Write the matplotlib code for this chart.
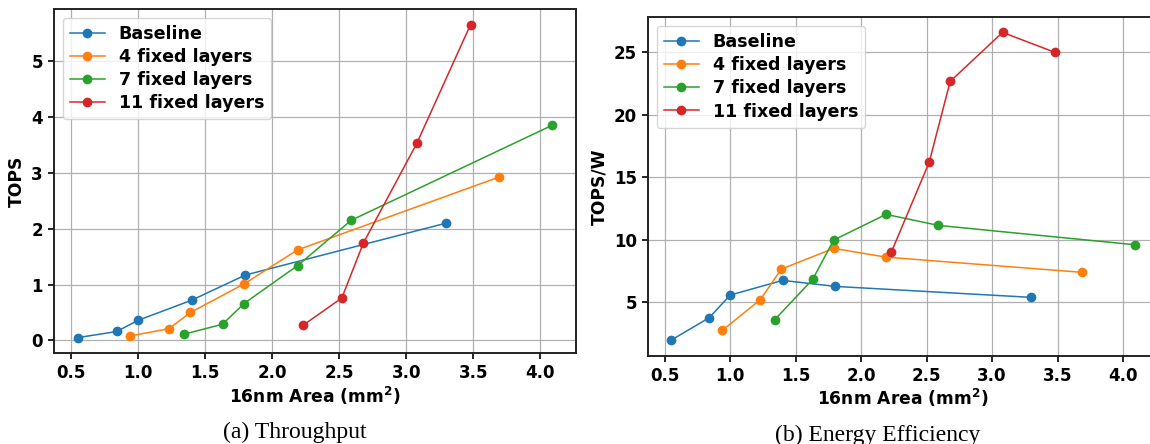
import matplotlib
matplotlib.use("Agg")
import matplotlib.pyplot as plt

plt.rcParams['font.family'] = 'DejaVu Sans'
plt.rcParams['font.weight'] = 'bold'
plt.rcParams['font.size'] = 12
plt.rcParams['axes.labelweight'] = 'bold'
plt.rcParams['mathtext.default'] = 'bf'

# Data
labels = ["Baseline", "4 fixed layers", "7 fixed layers", "11 fixed layers"]

area_base = [0.55, 0.84, 1.00, 1.40, 1.80, 3.30]
area_4 = [0.94, 1.23, 1.39, 1.79, 2.19, 3.69]
area_7 = [1.34, 1.63, 1.79, 2.19, 2.59, 4.09]
area_11 = [2.23, 2.52, 2.68, 3.08, 3.48]

tops_base = [0.05, 0.16, 0.36, 0.72, 1.17, 2.10]
tops_4 = [0.08, 0.21, 0.50, 1.01, 1.62, 2.92]
tops_7 = [0.11, 0.29, 0.66, 1.34, 2.15, 3.85]
tops_11 = [0.27, 0.76, 1.74, 3.53, 5.65]

eff_base = [1.98, 3.77, 5.58, 6.76, 6.28, 5.40]
eff_4 = [2.76, 5.21, 7.66, 9.32, 8.62, 7.40]
eff_7 = [3.61, 6.84, 9.98, 12.04, 11.16, 9.61]
eff_11 = [9.00, 16.22, 22.68, 26.60, 25.00]

areas = [area_base, area_4, area_7, area_11]
tops = [tops_base, tops_4, tops_7, tops_11]
effs = [eff_base, eff_4, eff_7, eff_11]

fig = plt.figure(figsize=(11.5, 4.44), dpi=100)
ax1 = fig.add_axes([0.0470, 0.2043, 0.4539, 0.7755])
ax2 = fig.add_axes([0.5635, 0.1993, 0.4435, 0.7624])


def draw(ax, ys, ylabel):
    for xs, yv, lab in zip(areas, ys, labels):
        ax.plot(xs, yv, marker='o', markersize=6, linewidth=1.1, label=lab)
    ax.set_xlabel(r"16nm Area (mm$^2$)", fontsize=12.3, fontweight='bold', labelpad=2)
    ax.set_ylabel(ylabel, fontsize=12.3, fontweight='bold')
    ax.grid(True, color='#b0b0b0', linewidth=0.9)
    for spine in ax.spines.values():
        spine.set_linewidth(1.4)
        spine.set_color('#222222')
    ax.tick_params(length=4.5, width=1.2, labelsize=12)
    ax.legend(loc='upper left', labelspacing=0.3,
              prop={'weight': 'bold', 'size': 12.6})


draw(ax1, tops, "TOPS")
draw(ax2, effs, "TOPS/W")

ax1.set_xticks([0.5, 1.0, 1.5, 2.0, 2.5, 3.0, 3.5, 4.0])
ax2.set_xticks([0.5, 1.0, 1.5, 2.0, 2.5, 3.0, 3.5, 4.0])

# Captions under each panel
fig.text(295 / 1150, 5.7 / 444, "(a) Throughput", ha='center', va='baseline',
         family='Liberation Serif', fontsize=17, fontweight='normal')
fig.text(878 / 1150, 3 / 444, "(b) Energy Efficiency", ha='center', va='baseline',
         family='Liberation Serif', fontsize=17, fontweight='normal')

fig.savefig("out.png", dpi=100)
